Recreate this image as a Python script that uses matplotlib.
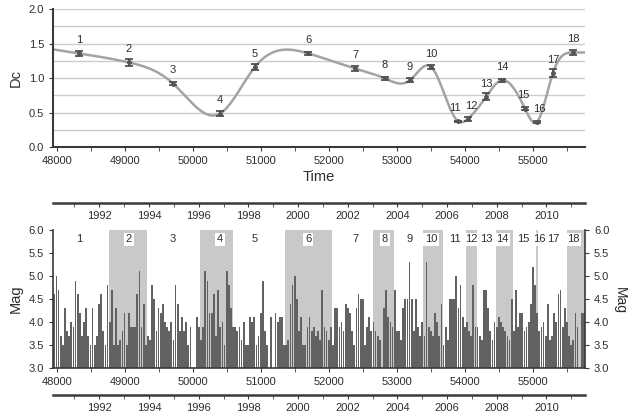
import numpy as np
import matplotlib
matplotlib.use("Agg")
import matplotlib.pyplot as plt
from matplotlib.ticker import MultipleLocator, FixedLocator

plt.rcParams['font.family'] = ['Liberation Sans', 'DejaVu Sans']

# ---------------- data ----------------
seg_ids = list(range(1, 19))
seg_time = [48324, 49059, 49706, 50397, 50912, 51694, 52382, 52824, 53191,
            53500, 53897, 54044, 54309, 54544, 54882, 55059, 55294, 55588]
seg_dc = [1.356, 1.225, 0.92, 0.484, 1.162, 1.356, 1.138, 0.993, 0.968,
          1.162, 0.373, 0.41, 0.726, 0.968, 0.557, 0.363, 1.075, 1.37]
seg_err = [0.03, 0.05, 0.02, 0.04, 0.04, 0.02, 0.03, 0.02, 0.03,
           0.03, 0.01, 0.03, 0.05, 0.02, 0.02, 0.01, 0.06, 0.03]
seg_edges = [47945, 48765, 49324, 50103, 50588, 51353, 52044, 52647, 52956,
             53382, 53676, 54015, 54176, 54456, 54706, 55050, 55075, 55500, 55765]

mag_early = [4.6, 5.0, 4.7, 3.7, 3.5, 4.3, 3.8, 3.7, 4.0, 3.9, 4.9, 4.6, 4.2, 3.7,
             4.0, 4.3, 3.7, 3.5, 4.3, 3.5, 3.7, 4.4, 4.6, 3.8, 3.5, 4.8, 4.0, 4.7,
             3.5, 4.3, 3.5, 3.6, 3.8, 4.2, 3.5, 4.2, 3.9, 3.9, 3.9, 4.6, 5.1, 3.9,
             4.4, 3.5, 3.7, 3.6, 4.8, 4.5, 3.8, 4.3, 4.2, 4.4, 4.0, 3.9, 3.8, 4.0,
             3.6, 4.8, 4.4, 3.8, 4.1, 3.8, 4.0, 3.5, 3.9, 3.0, 3.0, 4.1, 3.9, 3.6,
             3.9, 5.1, 4.9, 4.2, 4.2, 4.6, 3.7, 4.7, 3.9, 4.0, 3.5, 5.1, 4.8, 4.3,
             3.9, 3.9, 3.8, 3.9, 3.6, 4.0, 3.5, 3.5, 4.1, 4.0, 4.1, 3.5, 3.7, 4.2,
             4.9, 3.8, 3.5, 3.0, 4.1, 3.0, 4.2, 4.0, 4.1, 4.1, 3.5, 3.5, 3.6, 4.4,
             4.8, 5.0, 4.5, 3.8]
mag_late = [4.1, 3.5, 3.5, 3.9, 4.1, 3.8, 3.9, 3.7, 3.8, 3.6, 4.7, 3.9, 3.8, 3.6,
            3.9, 3.5, 4.3, 4.3, 3.9, 4.0, 3.8, 4.4, 4.3, 4.2, 3.8, 3.5, 4.3, 4.6,
            4.5, 4.5, 3.5, 3.9, 4.1, 3.8, 4.0, 3.8, 3.7, 3.6, 3.0, 4.3, 4.7, 4.1,
            4.0, 3.9, 4.7, 3.8, 3.8, 3.6, 4.3, 4.5, 4.5, 5.3, 4.5, 3.8, 4.5, 3.9,
            3.7, 4.0, 3.7, 5.3, 3.9, 3.8, 3.7, 4.2, 4.0, 3.7, 4.4, 3.5, 3.9, 3.6,
            4.5, 4.5, 4.5, 5.0, 4.3, 4.8, 4.1, 3.9, 4.0, 3.8, 3.7, 4.8, 3.9, 3.9,
            3.7, 3.6, 4.7, 4.7, 4.3, 3.8, 3.6, 4.0, 3.9, 4.1, 4.0, 3.9, 3.8, 3.7,
            3.6, 4.5, 3.8, 4.7, 3.9, 4.2, 4.2, 3.8, 3.9, 4.0, 4.4, 5.2, 4.8, 4.2,
            3.8, 3.9, 4.0, 3.7, 4.4, 3.6, 3.7, 4.2, 4.0, 4.6, 4.7, 3.9, 4.3, 4.0,
            3.7, 3.5, 3.6, 4.2, 3.9, 3.0, 4.2, 4.2]
early_span = (47945, 51574)
late_span = (51574, 55765)

year_major = list(range(1992, 2011, 2))
year_minor = list(range(1991, 2012))

XLIM = (47941, 55765)

# small horizontal nudges (points) for crowded labels
label_nudge = {11: -2.5, 12: 2.5, 15: -1.5, 16: 1.5}

# ---------------- helpers ----------------
def spline_curve(x, y, xs, end_slope_right=0.0):
    """Cubic spline: natural at left, clamped slope at right; linear extrapolation."""
    x = np.asarray(x, float); y = np.asarray(y, float)
    n = len(x); h = np.diff(x)
    A = np.zeros((n, n)); r = np.zeros(n)
    A[0, 0] = 1.0
    for i in range(1, n - 1):
        A[i, i - 1] = h[i - 1]
        A[i, i] = 2 * (h[i - 1] + h[i])
        A[i, i + 1] = h[i]
        r[i] = 3 * ((y[i + 1] - y[i]) / h[i] - (y[i] - y[i - 1]) / h[i - 1])
    A[n - 1, n - 2] = h[-1]
    A[n - 1, n - 1] = 2 * h[-1]
    r[n - 1] = 3 * (end_slope_right - (y[-1] - y[-2]) / h[-1])
    c = np.linalg.solve(A, r)
    b = (y[1:] - y[:-1]) / h - h * (2 * c[:-1] + c[1:]) / 3
    d = (c[1:] - c[:-1]) / (3 * h)
    out = np.empty_like(xs, dtype=float)
    for k, xv in enumerate(xs):
        if xv <= x[0]:
            out[k] = y[0] + b[0] * (xv - x[0])
        elif xv >= x[-1]:
            out[k] = y[-1] + end_slope_right * (xv - x[-1])
        else:
            i = np.searchsorted(x, xv) - 1
            dx = xv - x[i]
            out[k] = y[i] + b[i] * dx + c[i] * dx ** 2 + d[i] * dx ** 3
    return out

def year_mjd(y):
    return (np.datetime64(f"{y}-01-01") - np.datetime64("1858-11-17")).astype(int)

TXT = '#2e2e2e'
SPINE = '#3a3a3a'

fig = plt.figure(figsize=(6.28, 4.19), dpi=100)
W, H = 628, 419
L, R = 53, 585

def fax(x0, ytop, x1, ybot):
    return [x0 / W, 1 - ybot / H, (x1 - x0) / W, (ybot - ytop) / H]

# ---------------- top panel ----------------
ax1 = fig.add_axes(fax(L, 9, R, 147))
ax1.set_xlim(*XLIM)
ax1.set_ylim(0, 2.0)
for yv in np.arange(0.25, 2.01, 0.25):
    ax1.axhline(yv, color='#cccccc', lw=1.0, zorder=0)
xs = np.linspace(XLIM[0], XLIM[1], 800)
ax1.plot(xs, spline_curve(seg_time, seg_dc, xs), color='#a3a3a3', lw=1.8, zorder=2)
ax1.errorbar(seg_time, seg_dc, yerr=seg_err, fmt='o', ms=2.5, color='#555555',
             ecolor='#444444', elinewidth=1.2, capsize=3, capthick=1.2, zorder=3)
for sid, t, v in zip(seg_ids, seg_time, seg_dc):
    ax1.annotate(str(sid), (t, v), xytext=(label_nudge.get(sid, 0), 9.5),
                 textcoords='offset points',
                 ha='center', va='center', fontsize=8, color=TXT)
for s in ['top', 'right']:
    ax1.spines[s].set_visible(False)
for s in ['left', 'bottom']:
    ax1.spines[s].set_color(SPINE)
    ax1.spines[s].set_linewidth(1.5)
ax1.xaxis.set_major_locator(MultipleLocator(1000))
ax1.xaxis.set_minor_locator(MultipleLocator(500))
ax1.yaxis.set_major_locator(MultipleLocator(0.5))
ax1.yaxis.set_major_formatter(matplotlib.ticker.FormatStrFormatter('%.1f'))
ax1.tick_params(axis='both', which='both', colors=SPINE, labelcolor=TXT, labelsize=8, length=3)
ax1.set_xlabel('Time', fontsize=10.5, color=TXT, labelpad=3)
ax1.set_ylabel('Dc', fontsize=10.5, color=TXT, labelpad=4)

# ---------------- bottom panel ----------------
ax2 = fig.add_axes(fax(L, 230, R, 368))
ax2.set_xlim(*XLIM)
ax2.set_ylim(3.0, 6.0)
for i in range(1, len(seg_edges) - 1, 2):
    ax2.axvspan(seg_edges[i], seg_edges[i + 1], color='#c9c9c9', lw=0, zorder=0)

for mags, (t0, t1) in ((mag_early, early_span), (mag_late, late_span)):
    edges = np.linspace(t0, t1, len(mags) + 1)
    centers = (edges[:-1] + edges[1:]) / 2
    width = (t1 - t0) / len(mags)
    vals = np.asarray(mags)
    ax2.bar(centers, vals - 3.0, bottom=3.0, width=width * 0.82,
            color='#626262', lw=0, zorder=2)

for sid, t in zip(seg_ids, seg_time):
    boxed = (sid % 2 == 0)
    kw = dict(ha='center', va='center', fontsize=8, color=TXT, zorder=4)
    if boxed:
        kw['bbox'] = dict(boxstyle='square,pad=0.15', fc='white', ec='none')
    ax2.annotate(str(sid), (t, 5.8), xytext=(label_nudge.get(sid, 0), 0),
                 textcoords='offset points', **kw)

ax2.spines['top'].set_visible(False)
for s in ['left', 'bottom', 'right']:
    ax2.spines[s].set_color(SPINE)
    ax2.spines[s].set_linewidth(1.2)
ax2.xaxis.set_major_locator(MultipleLocator(1000))
ax2.xaxis.set_minor_locator(MultipleLocator(500))
ax2.yaxis.set_major_locator(MultipleLocator(0.5))
ax2.yaxis.set_major_formatter(matplotlib.ticker.FormatStrFormatter('%.1f'))
ax2.tick_params(axis='both', which='both', colors=SPINE, labelcolor=TXT, labelsize=8, length=3)
ax2.tick_params(axis='y', right=True, labelright=True)
ax2.set_ylabel('Mag', fontsize=10.5, color=TXT, labelpad=4)
fig.text(613 / W, 1 - 300 / H, 'Mag', rotation=270, ha='left', va='center',
         fontsize=10, color=TXT)

# ---------------- year axes ----------------
for yline in (203, 395):
    ay = fig.add_axes([L / W, 1 - yline / H, (R - L) / W, 0.0005])
    ay.set_xlim(*XLIM)
    ay.patch.set_visible(False)
    for s in ['top', 'left', 'right']:
        ay.spines[s].set_visible(False)
    ay.spines['bottom'].set_color(SPINE)
    ay.spines['bottom'].set_linewidth(1.8)
    ay.set_yticks([])
    ay.xaxis.set_major_locator(FixedLocator([year_mjd(y) for y in year_major]))
    ay.xaxis.set_minor_locator(FixedLocator([year_mjd(y) for y in year_minor]))
    ay.set_xticklabels([str(y) for y in year_major])
    ay.tick_params(axis='x', which='both', colors=SPINE, labelcolor=TXT,
                   labelsize=8, length=3, pad=3)

fig.savefig('out.png', dpi=100)
